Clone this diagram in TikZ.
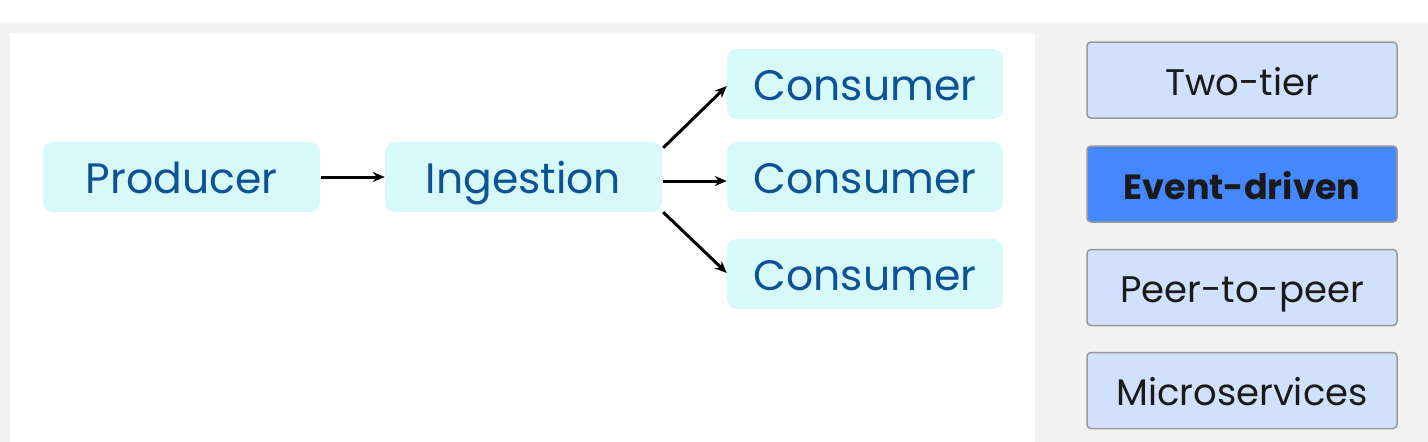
\documentclass[tikz,border=0pt]{standalone}
\usepackage{fontspec}
\setmainfont{Poppins}
\usetikzlibrary{arrows.meta}
\definecolor{bggrey}{HTML}{F2F2F2}
\definecolor{boxfill}{HTML}{D8F9FA}
\definecolor{boxtext}{HTML}{0B5394}
\definecolor{btnfill}{HTML}{D1E1FC}
\definecolor{btnsel}{HTML}{4487FF}
\definecolor{btnborder}{HTML}{9A9A9A}
\definecolor{btntext}{HTML}{1A1A1A}
\begin{document}
\begin{tikzpicture}[x=1pt,y=-1pt,
  flowbox/.style={fill=boxfill, rounded corners=10pt, minimum width=277pt, minimum height=70pt,
    inner sep=0pt, text=boxtext, text height=32pt, text depth=0pt,
    font=\fontsize{42.5}{50}\selectfont},
  btn/.style={fill=btnfill, draw=btnborder, line width=1.5pt, rounded corners=4pt,
    minimum width=310pt, minimum height=76pt, inner sep=0pt, text=btntext,
    text height=30pt, text depth=0pt, font=\fontsize{37}{44}\selectfont},
  selbtn/.style={btn, fill=btnsel, font=\fontsize{35}{42}\selectfont\bfseries},
  arr/.style={-{Stealth[length=12pt,width=10pt]}, line width=3pt, black}]
\useasboundingbox (0,0) rectangle (1428,442);
\fill[white] (0,0) rectangle (1428,442);
\fill[bggrey] (0,23) rectangle (1428,442);
\fill[white] (10,33) rectangle (1035,442);

\node[flowbox] (producer) at (181.5,177) {Producer};
\node[flowbox] (ingestion) at (523.5,177) {Ingestion};
\node[flowbox, minimum width=276pt] (consumer1) at (865,84) {Consumer};
\node[flowbox, minimum width=276pt] (consumer2) at (865,177) {Consumer};
\node[flowbox, minimum width=276pt] (consumer3) at (865,274) {Consumer};

\draw[arr] ([xshift=1pt]producer.east) -- (ingestion.west);
\draw[arr] ([xshift=1pt,yshift=-4pt]ingestion.east) -- ([yshift=-4pt]consumer2.west);
\draw[arr] ([xshift=1pt,yshift=-6pt]ingestion.north east) -- ([yshift=-2pt]consumer1.west);
\draw[arr] ([xshift=1pt]ingestion.south east) -- ([yshift=1pt]consumer3.west);

\node[btn] (twotier) at (1242,80) {Two-tier};
\node[selbtn] (eventdriven) at (1242,184) {Event-driven};
\node[btn] (p2p) at (1242,287.5) {Peer-to-peer};
\node[btn] (micro) at (1242,390.5) {Microservices};
\end{tikzpicture}
\end{document}
